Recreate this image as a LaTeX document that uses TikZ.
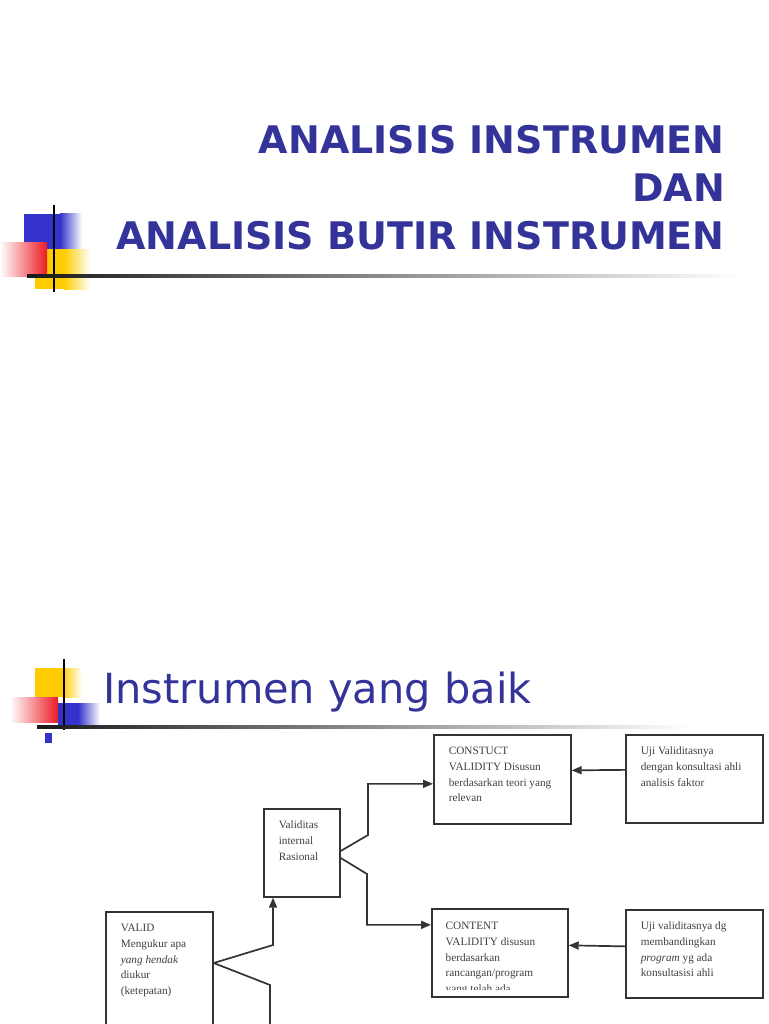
\documentclass[tikz,border=0pt]{standalone}
\usepackage{fontspec}
\setmainfont{Liberation Serif}
\newfontfamily\slidefont{DejaVu Sans}
\usetikzlibrary{positioning, arrows.meta}

\definecolor{titleblue}{RGB}{51,51,153}
\definecolor{decoblue}{RGB}{51,51,204}
\definecolor{decoyellow}{RGB}{255,204,0}
\definecolor{decored}{RGB}{236,28,36}

% text block of a box: width, height, lines (first baseline 20pt below the top)
\newcommand{\boxtxt}[3]{\parbox[t][#2][t]{#1}{\rule{0pt}{20pt}#3}}

\begin{document}
\begin{tikzpicture}[
		x=1pt, y=-1pt,
		>={Triangle[length=10pt, width=8pt]},
		title/.style={font=\slidefont\bfseries\fontsize{38}{48}\selectfont, text=titleblue, align=right, inner sep=0},
		subtitle/.style={font=\slidefont\fontsize{41.5}{50}\selectfont, text=titleblue, inner sep=0},
		boxtext/.style={text=black!75, font=\fontsize{11.25}{15.7}\selectfont, inner sep=0, anchor=north west},
		box/.style={boxtext, draw=black!80, line width=1.7pt, inner xsep=15pt},
		conn/.style={->, draw=black!80, line width=1.7pt},
		link/.style={draw=black!80, line width=1.7pt}
		]
		
		\fill[white] (0,0) rectangle (768,1024);
		\useasboundingbox (0,0) rectangle (768,1024);
		
		% --- Slide 1: decoration ---
		\fill[decoblue] (24,214) rectangle (60,249);
		\shade[left color=decoblue, right color=white] (60,214) rectangle (82,249);
		\fill[decoyellow] (35,249) rectangle (64,289);
		\shade[left color=decoyellow, right color=white] (64,249) rectangle (90,289);
		\shade[left color=white, right color=decored] (0,242) rectangle (47,276);
		\draw[line width=2.5pt] (54,205) -- (54,292);
		\shade[left color=black!90, right color=white] (27,274.5) rectangle (740,277.5);
		
		% --- Slide 1: title ---
		\node[title, anchor=north east] (title) at (725,125) {ANALISIS INSTRUMEN\\DAN\\ANALISIS BUTIR INSTRUMEN};
		
		% --- Slide 2: decoration ---
		\fill[decoyellow] (35,668) rectangle (62,697);
		\shade[left color=decoyellow, right color=white] (62,668) rectangle (82,697);
		\shade[left color=white, right color=decored] (10,697) rectangle (58,722);
		\fill[decoblue] (58,703) rectangle (78,728);
		\shade[left color=decoblue, right color=white] (78,703) rectangle (100,728);
		\draw[line width=2.5pt] (64,659) -- (64,730);
		\shade[left color=black!90, right color=white] (37,725.5) rectangle (690,728.5);
		\fill[decoblue] (45,733) rectangle (52,743);
		
		% --- Slide 2: title ---
		\node[subtitle, anchor=base west] (subtitle) at (103,703) {Instrumen yang baik};
		
		% --- Boxes ---
		\node[box] (valid) at (105,911) {\boxtxt{77pt}{134pt}{VALID\\Mengukur apa\\\textit{yang hendak}\\diukur\\(ketepatan)}};
		\node[box] (rasional) at (263,808) {\boxtxt{46pt}{88pt}{Validitas\\internal\\Rasional}};
		\node[box] (construct) at (433,734) {\boxtxt{107pt}{89pt}{CONSTUCT\\VALIDITY Disusun\\berdasarkan teori yang\\relevan}};
		\node[box] (uji1) at (625,734) {\boxtxt{107pt}{88pt}{Uji Validitasnya\\dengan konsultasi ahli\\analisis faktor}};
		\node[box, minimum width=136pt, minimum height=88pt, path picture={
			\clip (path picture bounding box.north west) rectangle ([yshift=7]path picture bounding box.south east);
			\node[boxtext] at ([xshift=-2]path picture bounding box.north west) {\boxtxt{106pt}{88pt}{CONTENT\\VALIDITY disusun\\berdasarkan\\rancangan/program\\yang telah ada}};
			}] (content) at (431,908) {};
		\node[box] (uji2) at (625,909) {\boxtxt{107pt}{88pt}{Uji validitasnya dg\\membandingkan\\\textit{program} yg ada\\konsultasisi ahli}};
		
		% --- Connectors ---
		\coordinate (v1) at (273,945);
		\coordinate (v2) at (270,985);
		\coordinate (v3) at (270,1040);
		\coordinate (r1) at (368,835);
		\coordinate (r2) at (367,874);
		\coordinate (c1) at ([yshift=-4.5]construct.west);
		\coordinate (c2) at ([yshift=28]content.west);
		
		\draw[conn] ([yshift=-52]valid.north east) -- (v1) -- (v1 |- rasional.south);
		\draw[link] ([yshift=-52]valid.north east) -- (v2) -- (v3);
		\draw[conn] ([yshift=-43]rasional.north east) -- (r1) -- (r1 |- c1) -- (c1);
		\draw[conn] ([yshift=-50]rasional.north east) -- (r2) -- (r2 |- c2) -- (c2);
		\draw[conn] ([yshift=9]uji1.west) -- ([yshift=9]construct.east);
		\draw[conn] ([yshift=7.5]uji2.west) -- ([yshift=7.5]content.east);
		
	\end{tikzpicture}
\end{document}
